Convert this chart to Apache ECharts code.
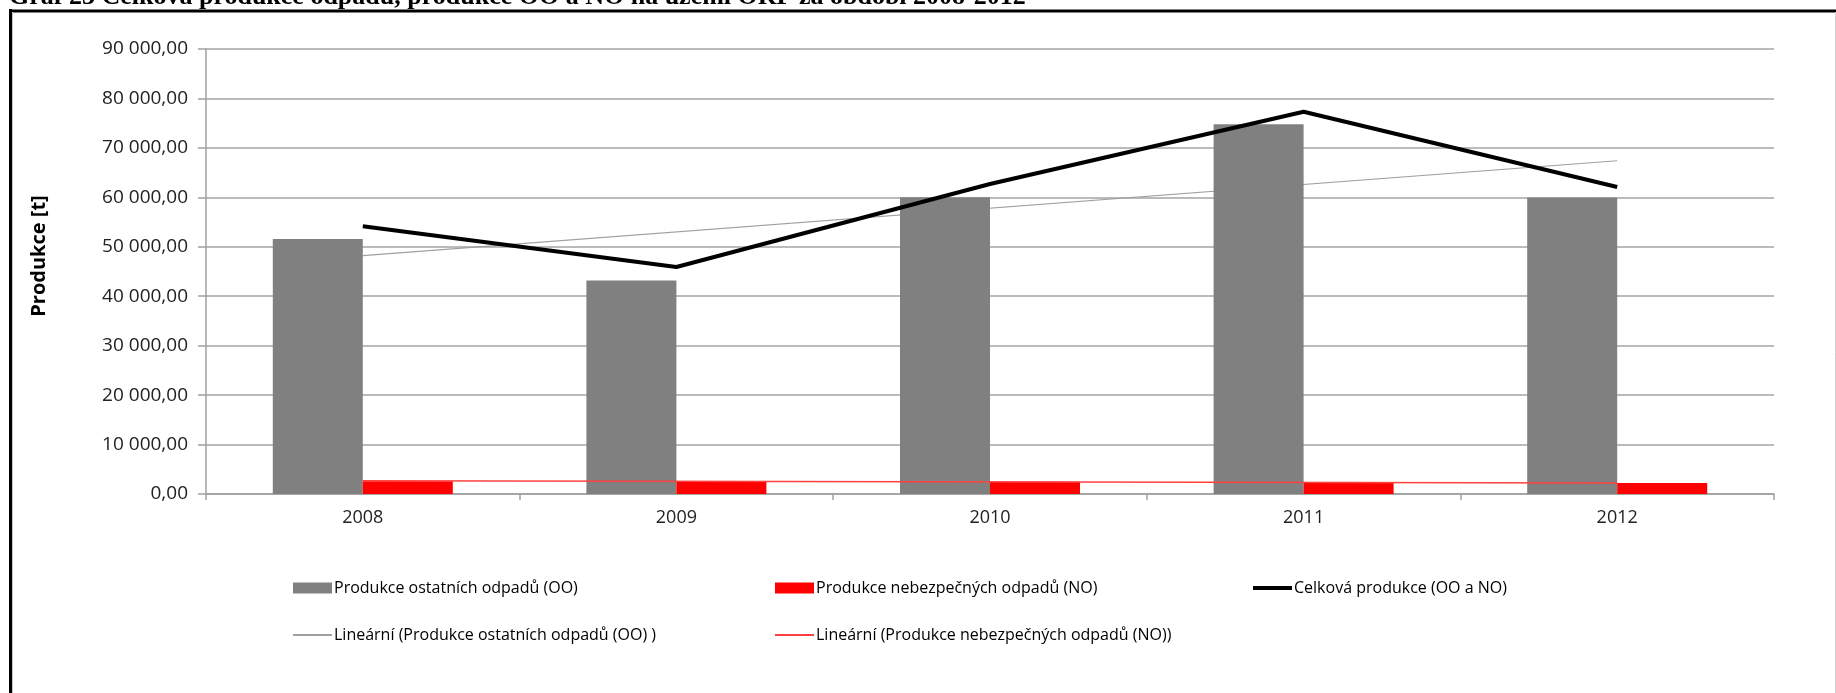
<!DOCTYPE html>
<html>
<head>
<meta charset="utf-8">
<script src="https://cdn.jsdelivr.net/npm/echarts@6/dist/echarts.min.js"></script>
<style>
  body { margin: 0; background: #fff; }
  #main { width: 1836px; height: 693px; }
</style>
</head>
<body>
<div id="main"></div>
<script>
// values
const years = ['2008', '2009', '2010', '2011', '2012'];
const ooValues = [51550, 43200, 60000, 74800, 59950];
const noValues = [2600, 2550, 2500, 2450, 2250];
const totalValues = [54150, 45900, 62700, 77300, 62100];
// trend lines: value at first and last year
const ooTrendEnds = [48200, 67400];
const noTrendEnds = [2700, 2250];

const nameOO = 'Produkce ostatních odpadů (OO)';
const nameNO = 'Produkce nebezpečných odpadů (NO)';
const nameTotal = 'Celková produkce (OO a NO)';
const nameTrendOO = 'Lineární (Produkce ostatních odpadů (OO) )';
const nameTrendNO = 'Lineární (Produkce nebezpečných odpadů (NO))';

const font = 'Open Sans';

const endsOnly = (ends) => years.map((y, i) => i === 0 ? ends[0] : (i === years.length - 1 ? ends[1] : null));

const fmt = (v) => String(v).replace(/\B(?=(\d{3})+(?!\d))/g, ' ') + ',00';

// one legend per item so each sits in its own column like the original
const legendItem = (name, left, top, h) => ({
    data: [{ name: name, icon: 'rect' }],
    left: left,
    top: top,
    itemWidth: 39,
    itemHeight: h,
    padding: 0,
    selectedMode: false,
    textStyle: { fontFamily: font, fontSize: 16, color: '#000', padding: [0, 0, 0, -3] }
});

const chart = echarts.init(document.getElementById('main'));
chart.setOption({
    animation: false,
    grid: { left: 206, right: 62, top: 49, bottom: 199 },
    graphic: [
        {
            type: 'text', left: 9, top: -16,
            style: {
                text: 'Graf 23 Celková produkce odpadů, produkce OO a NO na území ORP za období 2008-2012',
                font: 'bold 26px "Liberation Serif"', fill: '#000'
            }
        },
        { type: 'line', shape: { x1: 9, y1: 11, x2: 1836, y2: 11 }, style: { stroke: '#000', lineWidth: 3 } },
        { type: 'line', shape: { x1: 10.5, y1: 9, x2: 10.5, y2: 693 }, style: { stroke: '#000', lineWidth: 3 } },
        { type: 'line', shape: { x1: 12.5, y1: 12, x2: 12.5, y2: 693 }, style: { stroke: '#c8c8c8', lineWidth: 1 } },
        { type: 'line', shape: { x1: 1835.5, y1: 12, x2: 1835.5, y2: 693 }, style: { stroke: '#d4d4d4', lineWidth: 1 } },
        {
            type: 'text', x: 39, y: 256, rotation: Math.PI / 2,
            style: {
                text: 'Produkce [t]', font: 'bold 20px "Open Sans"', fill: '#000',
                align: 'center', verticalAlign: 'middle'
            }
        }
    ],
    legend: [
        legendItem(nameOO, 293, 580, 11),
        legendItem(nameNO, 775, 580, 11),
        legendItem(nameTotal, 1253, 580, 4),
        legendItem(nameTrendOO, 293, 627, 2),
        legendItem(nameTrendNO, 775, 627, 2)
    ],
    xAxis: {
        type: 'category',
        data: years,
        axisLine: { lineStyle: { color: '#a0a0a0', width: 1.5 } },
        axisTick: { show: true, length: 6, lineStyle: { color: '#a0a0a0', width: 1.5 } },
        axisLabel: { margin: 15, fontFamily: font, fontSize: 18, color: '#222' }
    },
    yAxis: {
        type: 'value',
        min: 0,
        max: 90000,
        interval: 10000,
        axisLine: { show: true, lineStyle: { color: '#a0a0a0', width: 1.5 } },
        axisTick: { show: true, length: 8, lineStyle: { color: '#a0a0a0', width: 1.5 } },
        splitLine: { lineStyle: { color: '#a4a4a4', width: 1.5 } },
        axisLabel: { margin: 18, fontFamily: font, fontSize: 19, color: '#222', formatter: fmt }
    },
    series: [
        {
            name: nameTrendOO, type: 'line', data: endsOnly(ooTrendEnds), connectNulls: true,
            symbol: 'none', z: 1, lineStyle: { color: '#a0a0a0', width: 1.2 }, itemStyle: { color: '#a0a0a0' }
        },
        {
            name: nameOO, type: 'bar', data: ooValues, barWidth: 90, barGap: '0%', z: 2,
            itemStyle: { color: '#808080' }
        },
        {
            name: nameNO, type: 'bar', data: noValues, barWidth: 90, z: 2,
            itemStyle: { color: '#ff0000' }
        },
        {
            name: nameTrendNO, type: 'line', data: endsOnly(noTrendEnds), connectNulls: true,
            symbol: 'none', z: 3, lineStyle: { color: '#ff4040', width: 1.5 }, itemStyle: { color: '#ff4040' }
        },
        {
            name: nameTotal, type: 'line', data: totalValues,
            symbol: 'none', z: 4, lineStyle: { color: '#000', width: 4 }, itemStyle: { color: '#000' }
        }
    ]
});
</script>
</body>
</html>
